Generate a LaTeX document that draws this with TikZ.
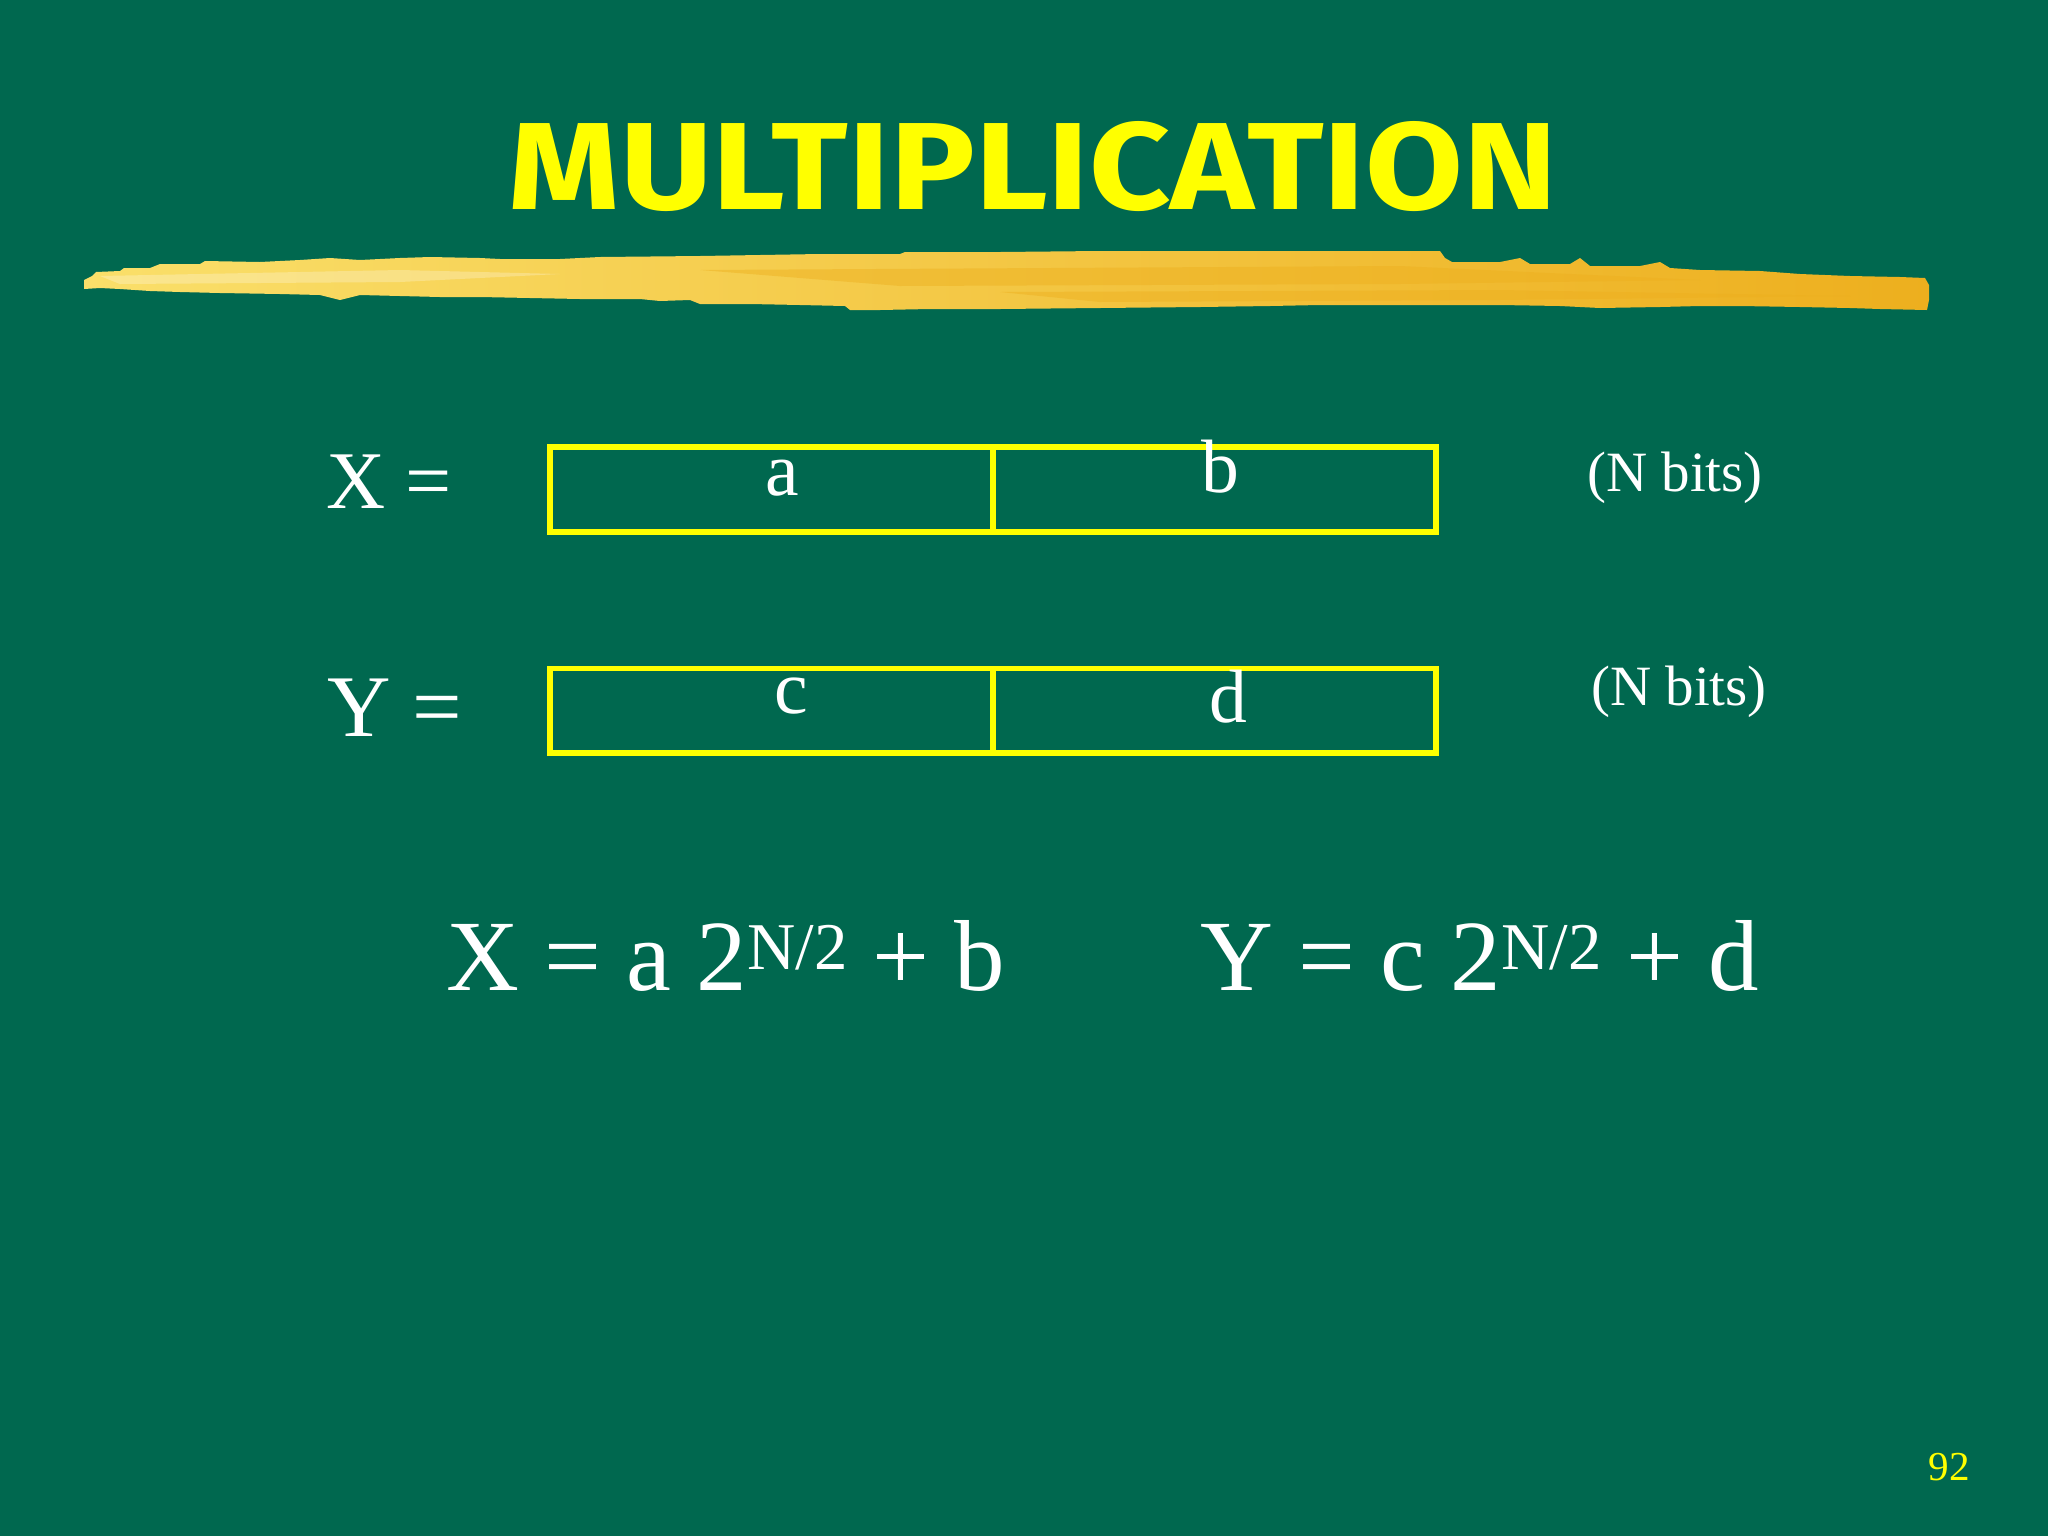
\documentclass[tikz,border=0pt]{standalone}
\usepackage{fontspec}
\usepackage{graphicx}
\setmainfont{Liberation Serif}
\newfontfamily\titlefont{Fira Sans}
\definecolor{board}{HTML}{00684F}
\definecolor{chalkyellow}{HTML}{FFFF00}
\definecolor{brushlight}{HTML}{FADF6A}
\definecolor{brushmid}{HTML}{F3C330}
\definecolor{brushdark}{HTML}{EDAF1E}
\begin{document}
\begin{tikzpicture}[x=0.01cm,y=-0.01cm,
  cell/.style={draw=chalkyellow, line width=1.7pt, minimum width=4.43cm, minimum height=0.845cm, inner sep=0pt, anchor=north west},
  txt/.style={text=white, inner sep=0pt, anchor=base},
  lab/.style={txt, font=\fontsize{23.3pt}{24pt}\selectfont},
  letter/.style={txt, font=\fontsize{21.5pt}{22pt}\selectfont},
  bits/.style={txt, font=\fontsize{16.2pt}{17pt}\selectfont},
  formula/.style={txt, font=\fontsize{28.7pt}{30pt}\selectfont},
  streak/.style={brushdark, opacity=0.45}
]
\fill[board] (0,0) rectangle (2048,1536);
\useasboundingbox (0,0) rectangle (2048,1536);

% title
\node[text=chalkyellow, inner sep=0pt] (title) at (1033,167)
  {\resizebox{10.48cm}{0.88cm}{\titlefont\bfseries MULTIPLICATION}};

% brush stroke
\shade[left color=brushlight, middle color=brushmid, right color=brushdark]
 (84,280) -- (92,276) -- (96,272) -- (120,271) -- (124,268) -- (150,268) -- (160,264) -- (200,264) -- (205,261) -- (260,262) -- (300,260) -- (330,258) -- (360,260) -- (400,258) -- (430,257) -- (480,258) -- (500,259) -- (560,259) -- (600,257) -- (700,256) -- (760,255) -- (820,254) -- (900,254) -- (905,252) -- (1000,252) -- (1100,251) -- (1200,251) -- (1300,251) -- (1440,251) -- (1445,258) -- (1452,262) -- (1500,262) -- (1520,258) -- (1530,264) -- (1570,264) -- (1580,258) -- (1590,266) -- (1640,266) -- (1660,262) -- (1670,268) -- (1700,270) -- (1760,271) -- (1800,274) -- (1850,276) -- (1900,277) -- (1925,278) -- (1929,285) -- (1929,300) -- (1927,310)
 -- (1880,309) -- (1850,308) -- (1800,307) -- (1740,306) -- (1700,306) -- (1660,307) -- (1600,308) -- (1560,306) -- (1500,305) -- (1400,305) -- (1320,305) -- (1270,306) -- (1200,307) -- (1100,308) -- (1000,309) -- (930,309) -- (880,310) -- (850,310) -- (845,306) -- (800,305) -- (750,304) -- (700,304) -- (690,300) -- (660,301) -- (640,299) -- (580,299) -- (530,298) -- (480,297) -- (440,297) -- (400,296) -- (360,295) -- (340,300) -- (320,295) -- (280,294) -- (220,293) -- (180,292) -- (150,291) -- (120,289) -- (100,288) -- (84,289) -- cycle;
\fill[streak] (700,270) -- (1400,266) -- (1700,280) -- (1400,284) -- (900,286) -- cycle;
\fill[streak] (1000,292) -- (1500,290) -- (1850,296) -- (1500,300) -- (1100,302) -- cycle;
\fill[white, opacity=0.25] (100,276) -- (400,270) -- (560,274) -- (400,282) -- (120,284) -- cycle;

% X row
\node[lab] (xlab) at (389,508) {X =};
\node[cell] (xa) at (547,444) {};
\node[cell] (xb) at (990,444) {};
\node[letter] (la) at (782,495) {a};
\node[letter] (lb) at (1220,492) {b};
\node[bits] (xbits) at (1675,491) {(N bits)};

% Y row
\node[txt, font=\fontsize{25pt}{26pt}\selectfont] (ylab) at (395,736) {Y =};
\node[cell] (yc) at (547,665.5) {};
\node[cell] (yd) at (990,665.5) {};
\node[letter] (lc) at (791,713) {c};
\node[letter] (ld) at (1228,722) {d};
\node[bits] (ybits) at (1679,705) {(N bits)};

% formulas
\node[formula] (fx) at (726,990) {X = a 2\raisebox{5.7pt}{\fontsize{19pt}{19pt}\selectfont N/2} + b};
\node[formula] (fy) at (1480,990) {Y = c 2\raisebox{5.7pt}{\fontsize{19pt}{19pt}\selectfont N/2} + d};

% page number
\node[txt, text=chalkyellow, font=\fontsize{11.7pt}{12pt}\selectfont] (page) at (1949,1480) {92};
\end{tikzpicture}
\end{document}
